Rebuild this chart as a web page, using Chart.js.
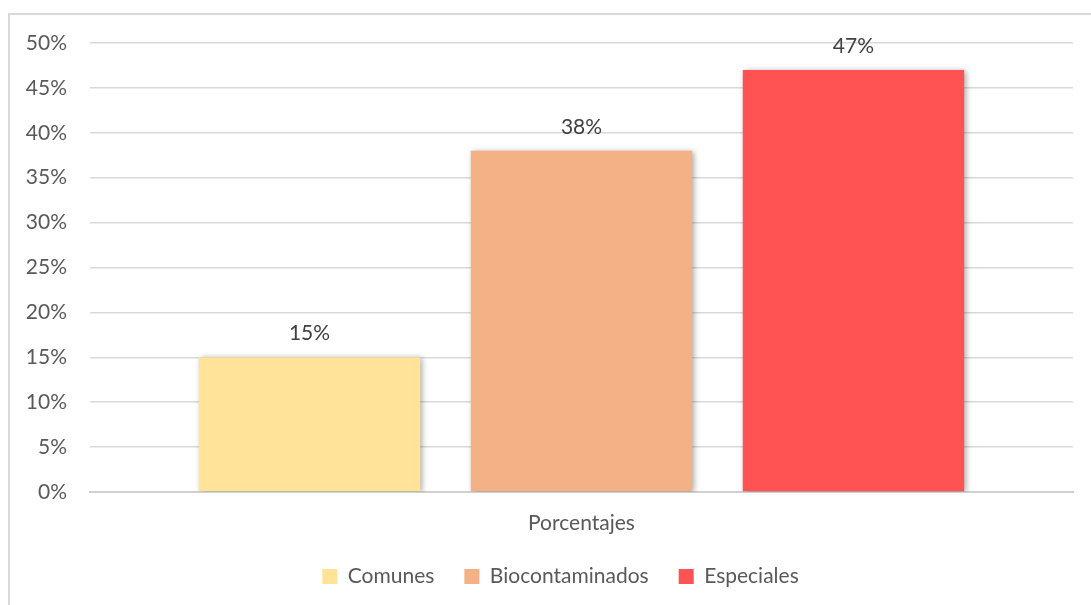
<!DOCTYPE html>
<html>
<head>
<meta charset="utf-8">
<script src="https://cdn.jsdelivr.net/npm/chart.js@4"></script>
<style>
  html, body { margin: 0; padding: 0; background: #fff; }
  #wrap { position: relative; width: 1091px; height: 605px; overflow: hidden; }
  #frame { position: absolute; left: 8px; top: 13px; width: 1100px; height: 620px;
           border: 2px solid #d9d9d9; box-sizing: border-box; }
  canvas { position: absolute; left: 0; top: 0; }
</style>
</head>
<body>
<div id="wrap">
  <div id="frame"></div>
  <canvas id="chart" width="1091" height="605"></canvas>
</div>
<script>
/* ── data ── */
const categories = ['Porcentajes'];
const seriesNames = ['Comunes', 'Biocontaminados', 'Especiales'];
const seriesValues = [[15], [38], [47]];
const seriesColors = ['#FFE398', '#F3B185', '#FF5252'];
const yTicks = [0, 5, 10, 15, 20, 25, 30, 35, 40, 45, 50];

const FONT = 'Lato, "Open Sans", sans-serif';
const TEXT = '#595959';
const SIZE = 21;

/* bar shadow, like the office export */
const shadowPlugin = {
  id: 'barShadow',
  beforeDatasetsDraw(chart) {
    const ctx = chart.ctx;
    ctx.save();
    ctx.shadowColor = 'rgba(0,0,0,0.35)';
    ctx.shadowBlur = 6;
    ctx.shadowOffsetX = 2;
    ctx.shadowOffsetY = 1;
  },
  afterDatasetsDraw(chart) {
    chart.ctx.restore();
  },
};

/* legend sits centred under the plot, not the whole canvas */
const legendShift = {
  id: 'legendShift',
  afterLayout(chart) {
    const lg = chart.legend;
    if (!lg) return;
    lg.left += 24;
    lg.right += 24;
  },
};

/* value labels above each bar */
const valueLabels = {
  id: 'valueLabels',
  afterDraw(chart) {
    const ctx = chart.ctx;
    ctx.save();
    ctx.font = SIZE + 'px ' + FONT;
    ctx.fillStyle = '#404040';
    ctx.textAlign = 'center';
    ctx.textBaseline = 'alphabetic';
    chart.data.datasets.forEach((ds, i) => {
      chart.getDatasetMeta(i).data.forEach((bar, j) => {
        ctx.fillText(ds.data[j] + '%', bar.x, bar.y - 17);
      });
    });
    ctx.restore();
  },
};

new Chart(document.getElementById('chart'), {
  type: 'bar',
  data: {
    labels: categories,
    datasets: seriesNames.map((name, i) => ({
      label: name,
      data: seriesValues[i],
      backgroundColor: seriesColors[i],
      borderWidth: 0,
      categoryPercentage: 0.83,
      barPercentage: 0.814,
    })),
  },
  options: {
    responsive: false,
    animation: false,
    devicePixelRatio: 1,
    layout: { padding: { top: 43, right: 18, left: 0, bottom: 8 } },
    plugins: {
      legend: {
        position: 'bottom',
        labels: {
          color: TEXT,
          font: { family: FONT, size: SIZE },
          boxWidth: 15, boxHeight: 15,
          padding: 30,
          useBorderRadius: false,
        },
      },
      tooltip: { enabled: false },
    },
    scales: {
      y: {
        min: 0, max: 50,
        afterBuildTicks: s => { s.ticks = yTicks.map(v => ({ value: v })); },
        afterFit: s => { s.width = 90; },
        ticks: {
          color: TEXT,
          font: { family: FONT, size: SIZE },
          padding: 23,
          callback: v => v + '%',
        },
        grid: { color: '#d9d9d9', lineWidth: 1.5, drawTicks: false },
        border: { display: false },
      },
      x: {
        afterFit: s => { s.height = 44; },
        ticks: {
          color: TEXT,
          font: { family: FONT, size: SIZE },
          padding: 11,
        },
        grid: { display: false },
        border: { color: '#d0d0d0', width: 2 },
      },
    },
  },
  plugins: [shadowPlugin, legendShift, valueLabels],
});
</script>
</body>
</html>
